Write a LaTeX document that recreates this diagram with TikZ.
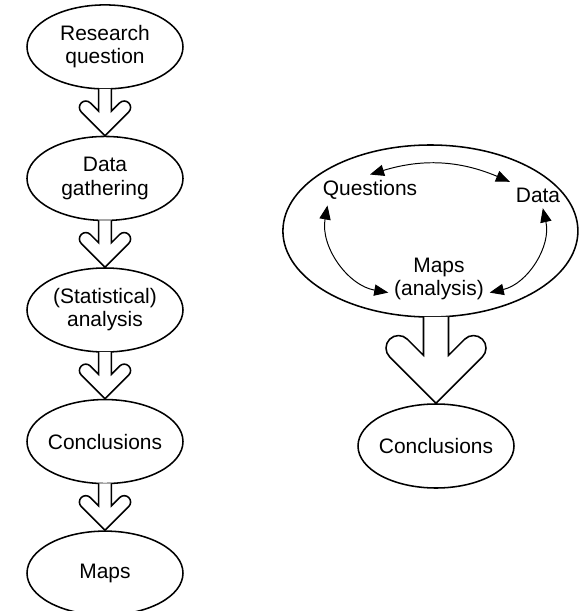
\documentclass[tikz,border=0pt]{standalone}
\usepackage{fontspec}
\setmainfont{Liberation Sans}
\usetikzlibrary{shapes.geometric,calc,arrows.meta}
\tikzset{
  stage/.style={
    % The shape:
    shape=ellipse,
    % The size:
    minimum width=3.9cm,minimum height=2.1cm,
    inner sep=0pt,inner xsep=-5mm, % same size for every ellipse
    % The border:
    draw=black,line width=1.1pt,
    % The text:
    align=center,font=\fontsize{14.9}{16.4}\selectfont}}
\tikzset{
  loopbox/.style={
    shape=ellipse,minimum width=7.375cm,minimum height=4.3cm,
    draw=black,line width=1.1pt}}
\tikzset{
  word/.style={
    inner sep=4pt,align=center,font=\fontsize{14.9}{16.4}\selectfont}}
\tikzset{
  % hollow arrow with rounded barbs, #1 = half the stem width
  fatarrow/.style={
    draw=black,line width=1.1pt,fill=white,
    to path={let \p1=(\tikztostart),\p2=(\tikztotarget) in
      (\x2-#1,\y1+0.6pt) -- (\x2-#1,\y2+3.828*#1)
      -- (\x2-2.293*#1,\y2+5.121*#1)
      arc[start angle=45,end angle=225,radius=#1]
      -- (\x2,\y2)
      -- (\x2+3.707*#1,\y2+3.707*#1)
      arc[start angle=-45,end angle=135,radius=#1]
      -- (\x2+#1,\y2+3.828*#1) -- (\x2+#1,\y1+0.6pt)}},
  twoway/.style={
    line width=0.7pt,{Triangle[length=10pt,width=8pt]}-{Triangle[length=10pt,width=8pt]}}}

\begin{document}
\begin{tikzpicture}
	\useasboundingbox (0,0) rectangle (14.5,-15.275);
	% The chain on the left
	\matrix[row sep=11.5mm,inner sep=0pt] (chain) at (2.625,-7.75) {
		\node[stage] (question) {Research\\question}; \\
		\node[stage] (gather) {Data\\gathering}; \\
		\node[stage] (analysis) {(Statistical)\\analysis}; \\
		\node[stage] (concl) {Conclusions}; \\
		\node[stage] (maps) {Maps}; \\
	};
	\draw[fatarrow=0.16cm] (question.south) to (gather.north);
	\draw[fatarrow=0.16cm] (gather.south) to (analysis.north);
	\draw[fatarrow=0.16cm] (analysis.south) to (concl.north);
	\draw[fatarrow=0.16cm] (concl.south) to (maps.north);
	% The loop on the right
	\node[loopbox] (loop) at (10.76,-5.775) {};
	\node[word] (quest) at (9.25,-4.75) {Questions};
	\node[word] (data) at (13.45,-4.875) {Data};
	\node[word] (mapsan) at (10.975,-6.975) {Maps\\(analysis)};
	\node[stage] (outcome) at (10.9,-11.15) {Conclusions};
	% Lines inside the loop
	\draw[twoway] (quest.north) to[bend left=20] (data.north west);
	\draw[twoway] (quest.-160) to[bend right=45] (mapsan.195);
	\draw[twoway] (data.-70) to[bend left=45] (mapsan.-15);
	% Out of the loop
	\draw[fatarrow=0.3125cm] (loop.south) to (outcome.north);
\end{tikzpicture}
\end{document}
